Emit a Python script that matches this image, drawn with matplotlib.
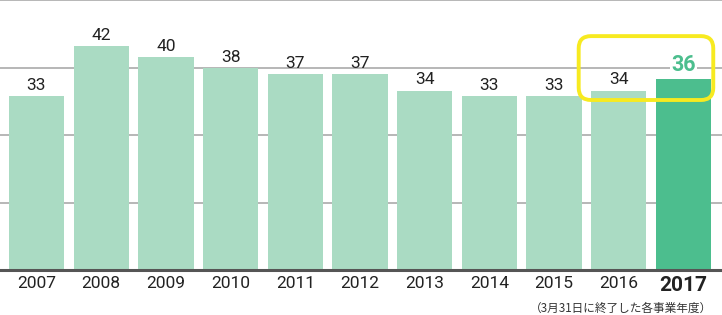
import matplotlib
matplotlib.use("Agg")
import matplotlib.pyplot as plt
from matplotlib.patches import FancyBboxPatch

years = ["2007", "2008", "2009", "2010", "2011", "2012", "2013", "2014", "2015", "2016", "2017"]
values = [33, 42, 40, 38, 37, 37, 34, 33, 33, 34, 36]
note = "（3月31日に終了した各事業年度）"

light = "#aadbc3"
dark = "#4cbe8e"

fig = plt.figure(figsize=(7.22, 3.15), dpi=100)
ax = fig.add_axes([0, 45 / 315, 1, 270 / 315])
y0, y1 = 1.7, 50.3
ax.set_ylim(y0, y1)
ax.set_xlim(-0.564, 10.595)

for f in [0.25, 0.5, 0.75, 1.0]:
    ax.axhline(y0 + (y1 - y0) * f, color="#aaaaaa", lw=1.2, zorder=0)

x = list(range(len(years)))
colors = [light] * (len(years) - 1) + [dark]
ax.bar(x, values, width=0.855, color=colors, bottom=0, zorder=2)

for i, v in enumerate(values):
    last = i == len(values) - 1
    ax.text(i, v + 0.6, str(v), ha="center", va="bottom",
            fontsize=15.5 if last else 12.5, fontweight="bold" if last else "normal",
            color=dark if last else "#222222", family="Roboto", zorder=4,
            bbox=dict(facecolor="white", edgecolor="none", pad=1) if last else None)

ax.axhline(y0, color="#555555", lw=2.2, zorder=5, clip_on=False)

box = FancyBboxPatch((8.38, 32.3), 2.08, 11.5,
                     boxstyle="round,pad=0,rounding_size=0.19",
                     mutation_aspect=11.6,
                     fill=False, edgecolor="#f7ea20", lw=2.8, zorder=6, clip_on=False)
ax.add_patch(box)

ax.set_xticks(x)
ax.set_xticklabels(years)
for i, lab in enumerate(ax.get_xticklabels()):
    lab.set_family("Roboto")
    lab.set_color("#222222")
    if i == len(years) - 1:
        lab.set_fontsize(15)
        lab.set_fontweight("bold")
    else:
        lab.set_fontsize(12.5)
ax.tick_params(axis="x", length=0, pad=4)
ax.set_yticks([])
for s in ax.spines.values():
    s.set_visible(False)

fig.text(712 / 722, 1 - 308 / 315, note, ha="right", va="center", fontsize=8.4,
         family=["Noto Sans CJK JP", "DejaVu Sans"], color="#333333")

fig.savefig("out.png", dpi=100)
